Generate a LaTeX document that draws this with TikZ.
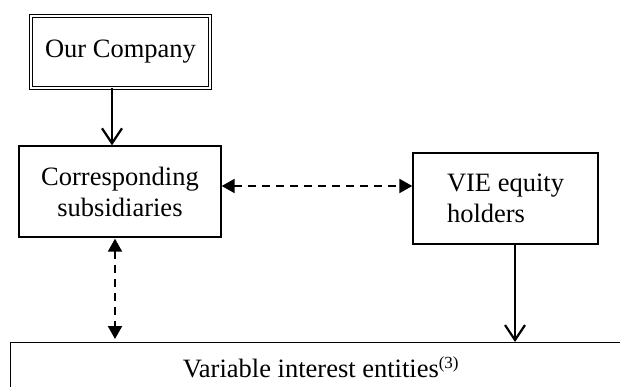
\documentclass[tikz,border=0pt]{standalone}
\usepackage{fontspec}
\setmainfont{Liberation Serif}
\usetikzlibrary{arrows.meta}
\begin{document}
\begin{tikzpicture}[x=1pt,y=1pt,
  box/.style={draw, line width=1.4pt, inner sep=0pt, align=center, font=\fontsize{26.5}{31}\selectfont},
  solidarrow/.style={line width=2.2pt, -{Straight Barb[length=15pt,width=20pt,line width=2.2pt]}},
  dasharrow/.style={line width=2.2pt, dash pattern=on 8pt off 6pt, {Triangle[length=13pt,width=14pt]}-{Triangle[length=13pt,width=14pt]}}]
\useasboundingbox (0,0) rectangle (620,-387);
\node[box, double, double distance=2pt, line width=1.2pt, minimum width=178.6pt, minimum height=71.6pt] (oc) at (120.5,-52) {Our Company};
\node[box, minimum width=202pt, minimum height=91pt] (cs) at (120,-191.5) {Corresponding\\subsidiaries};
\node[box, align=left, minimum width=185pt, minimum height=91pt] (vie) at (505.5,-198.5) {VIE equity\\holders};
\node[box, minimum width=620pt, minimum height=50pt, anchor=north west] (vi) at (10,-342) {Variable interest entities\raisebox{9pt}{\fontsize{17}{17}\selectfont(3)}};
\coordinate (a1) at ([xshift=-8.5pt]oc.south);
\draw[solidarrow] (a1) -- (a1 |- cs.north);
\coordinate (d1) at ([xshift=-5pt]cs.south);
\draw[dasharrow, shorten <=1pt, shorten >=3pt] (d1) -- (d1 |- vi.north);
\coordinate (h1) at ([yshift=5.5pt]cs.east);
\draw[dasharrow] (h1) -- (h1 -| vie.west);
\coordinate (v1) at ([xshift=9.5pt]vie.south);
\draw[solidarrow] (v1) -- (v1 |- vi.north);
\end{tikzpicture}
\end{document}
